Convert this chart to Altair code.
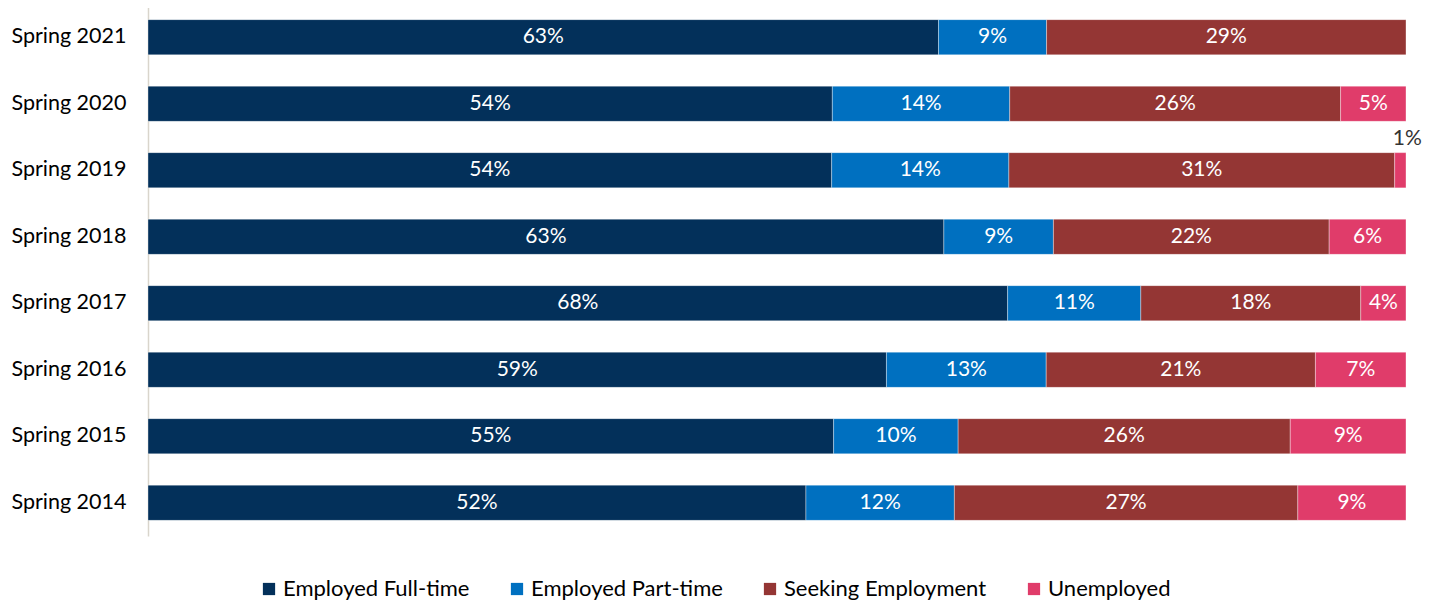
import altair as alt
import pandas as pd

years = ["Spring 2021", "Spring 2020", "Spring 2019", "Spring 2018",
         "Spring 2017", "Spring 2016", "Spring 2015", "Spring 2014"]
categories = ["Employed Full-time", "Employed Part-time", "Seeking Employment", "Unemployed"]
colors = ["#03305A", "#0070C0", "#943634", "#E03C6A"]

full_time = [62.9, 54.4, 54.4, 63.2, 68.4, 58.7, 54.5, 52.3]
part_time = [8.6, 14.1, 14.1, 8.7, 10.6, 12.7, 9.9, 11.8]
seeking = [28.6, 26.3, 30.7, 21.9, 17.5, 21.4, 26.4, 27.3]
unemployed = [0.0, 5.2, 0.9, 6.1, 3.6, 7.2, 9.2, 8.6]

rows = []
for i, y in enumerate(years):
    for j, (c, vals) in enumerate(zip(categories, [full_time, part_time, seeking, unemployed])):
        rows.append({"year": y, "cat": c, "order": j, "value": vals[i]})
df = pd.DataFrame(rows)

FONT = "Lato"

base = alt.Chart(df).transform_filter(alt.datum.value > 0).transform_stack(
    stack="value", as_=["x0", "x1"], groupby=["year"], offset="normalize",
    sort=[alt.SortField("order", "ascending")]
).transform_calculate(
    mid="(datum.x0 + datum.x1) / 2",
    label="format(datum.value, '.0f') + '%'"
)

yenc = alt.Y("year:N", sort=years, title=None,
             scale=alt.Scale(paddingInner=0.47, paddingOuter=0.235),
             axis=alt.Axis(labelFontSize=21.5, labelFont=FONT, labelColor="#000000",
                           ticks=False, labelPadding=22, domainColor="#D9D5CC",
                           domainWidth=1.5, labelLimit=300))

bars = base.mark_bar(stroke="#FFFFFF", strokeWidth=0.6, strokeOpacity=0.6).encode(
    x=alt.X("x0:Q", scale=alt.Scale(domain=[0, 1], nice=False, zero=False), axis=None),
    x2="x1:Q",
    y=yenc,
    color=alt.Color("cat:N", sort=categories,
                    scale=alt.Scale(domain=categories, range=colors),
                    legend=alt.Legend(title=None, orient="none", direction="horizontal",
                                      legendX=110, legendY=574,
                                      symbolType="square", symbolSize=150,
                                      symbolStrokeWidth=0, labelOffset=3,
                                      labelFontSize=22, labelFont=FONT, labelColor="#000000",
                                      columnPadding=36, labelLimit=400)),
)

inside = base.transform_filter(alt.datum.value >= 2).mark_text(
    fontSize=21, font=FONT, color="#FFFFFF"
).encode(x="mid:Q", y=alt.Y("year:N", sort=years), text="label:N")

outside = base.transform_filter(alt.datum.value < 2).mark_text(
    fontSize=21, font=FONT, color="#333333", dx=7, dy=-31
).encode(x="mid:Q", y=alt.Y("year:N", sort=years), text="label:N")

chart = alt.layer(bars, inside, outside).properties(
    width=1258, height=532, background="#FFFFFF",
    padding={"left": 2, "top": -4, "right": 2, "bottom": 2},
).configure_view(stroke=None)

chart.save("out.html", embed_options={"renderer": "svg", "actions": False})
